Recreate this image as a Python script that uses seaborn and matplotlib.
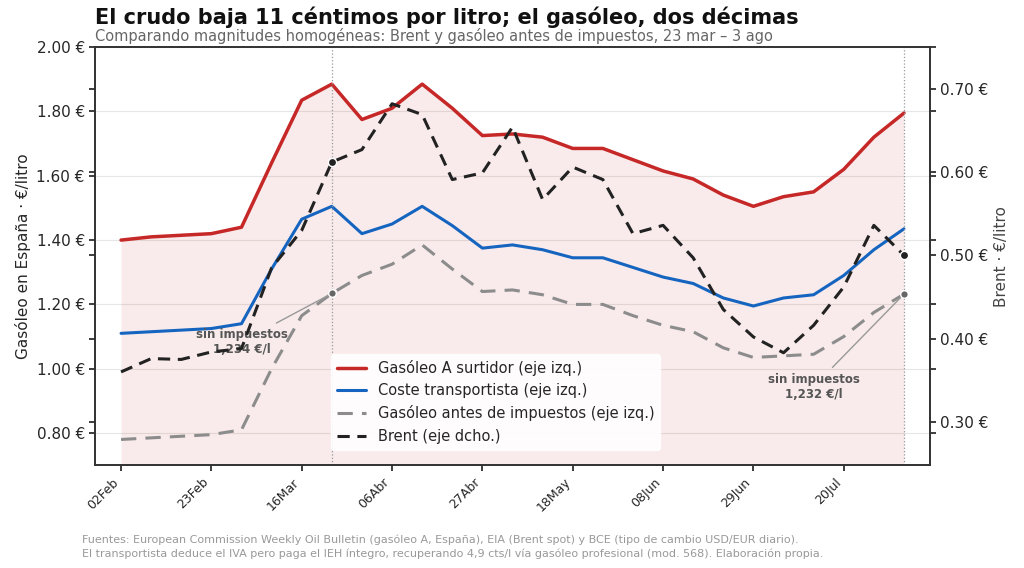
import pandas as pd
import matplotlib
matplotlib.use('Agg')
import matplotlib.pyplot as plt
import seaborn as sns

sns.set_theme(style="white")
plt.rcParams['font.family'] = ['DejaVu Sans']

# weekly data, 02 Feb - 03 Aug
fechas = pd.date_range("2026-02-02", periods=27, freq="7D")
surtidor = [1.40, 1.41, 1.415, 1.42, 1.44, 1.64, 1.835, 1.885, 1.775, 1.81, 1.885, 1.81, 1.725,
            1.73, 1.72, 1.685, 1.685, 1.65, 1.615, 1.59, 1.54, 1.505, 1.535, 1.55, 1.62, 1.72, 1.795]
transportista = [1.11, 1.115, 1.12, 1.125, 1.14, 1.31, 1.465, 1.505, 1.42, 1.45, 1.505, 1.445, 1.375,
                 1.385, 1.37, 1.345, 1.345, 1.315, 1.285, 1.265, 1.22, 1.195, 1.22, 1.23, 1.29, 1.37, 1.435]
sin_impuestos = [0.78, 0.785, 0.79, 0.795, 0.81, 1.00, 1.165, 1.234, 1.29, 1.325, 1.385, 1.31, 1.24,
                 1.245, 1.23, 1.20, 1.20, 1.165, 1.135, 1.115, 1.065, 1.035, 1.04, 1.045, 1.10, 1.175, 1.232]
brent = [0.36, 0.376, 0.375, 0.384, 0.388, 0.485, 0.53, 0.612, 0.627, 0.682, 0.669, 0.591, 0.599,
         0.654, 0.567, 0.606, 0.591, 0.526, 0.536, 0.497, 0.435, 0.402, 0.383, 0.416, 0.462, 0.536, 0.50]
tick_labels = ["02Feb", "23Feb", "16Mar", "06Abr", "27Abr", "18May", "08Jun", "29Jun", "20Jul"]

df = pd.DataFrame({"fecha": fechas, "surtidor": surtidor, "transportista": transportista,
                   "sin": sin_impuestos, "brent": brent})

fig, ax = plt.subplots(figsize=(10.24, 5.68), dpi=100)
fig.subplots_adjust(left=0.093, right=0.908, bottom=0.181, top=0.917)
ax2 = ax.twinx()

ax.fill_between(df["fecha"], 0.70, df["surtidor"], color="#c62828", alpha=0.09, lw=0)
sns.lineplot(data=df, x="fecha", y="surtidor", ax=ax, color="#c62828", lw=2.5, label="Gasóleo A surtidor (eje izq.)", legend=False)
sns.lineplot(data=df, x="fecha", y="transportista", ax=ax, color="#1565c0", lw=2.2, label="Coste transportista (eje izq.)", legend=False)
sns.lineplot(data=df, x="fecha", y="sin", ax=ax, color="#8c8c8c", lw=2.2, ls=(0, (5, 3)), label="Gasóleo antes de impuestos (eje izq.)", legend=False)
sns.lineplot(data=df, x="fecha", y="brent", ax=ax2, color="#222222", lw=2.2, ls=(0, (4, 2.5)), label="Brent (eje dcho.)", legend=False)

for i in (7, 26):
    ax.axvline(df["fecha"][i], color="#999999", ls=":", lw=0.9)
    ax.scatter(df["fecha"][i], df["sin"][i], color="#666666", s=30, zorder=5, edgecolor="white")
    ax2.scatter(df["fecha"][i], df["brent"][i], color="#222222", s=35, zorder=5, edgecolor="white")

ax.annotate("sin impuestos\n1,234 €/l", xy=(df["fecha"][7], df["sin"][7]),
            xytext=(df["fecha"][4], 1.05), ha="center", fontsize=8.5, fontweight="bold", color="#555555",
            arrowprops=dict(arrowstyle="-", color="#999999", lw=1))
ax.annotate("sin impuestos\n1,232 €/l", xy=(df["fecha"][26], df["sin"][26]),
            xytext=(df["fecha"][23], 0.91), ha="center", fontsize=8.5, fontweight="bold", color="#555555",
            arrowprops=dict(arrowstyle="-", color="#999999", lw=1))

ax.set_ylim(0.70, 2.00)
ax2.set_ylim(0.248, 0.75)
ax.set_yticks([0.8, 1.0, 1.2, 1.4, 1.6, 1.8, 2.0])
ax.set_yticklabels([f"{v:.2f} €" for v in ax.get_yticks()], fontsize=11)
ax2.set_yticks([0.3, 0.4, 0.5, 0.6, 0.7])
ax2.set_yticklabels([f"{v:.2f} €" for v in ax2.get_yticks()], fontsize=11)
ax.set_xticks(df["fecha"][::3])
ax.set_xticklabels(tick_labels, rotation=45, ha="right", fontsize=9)
ax.set_xlim(df["fecha"][0] - pd.Timedelta(days=6), df["fecha"][26] + pd.Timedelta(days=6))
ax.set_xlabel("")
ax.set_ylabel("Gasóleo en España · €/litro", fontsize=11)
ax2.set_ylabel("Brent · €/litro", fontsize=11, color="#444444")
ax.grid(axis="y", color="#e6e6e6", lw=0.8)
for a in (ax, ax2):
    a.tick_params(length=4, direction="out", left=True, bottom=True, right=True)
    for s in a.spines.values():
        s.set_color("#333333")

h1, l1 = ax.get_legend_handles_labels()
h2, l2 = ax2.get_legend_handles_labels()
ax.legend(h1 + h2, l1 + l2, loc="lower center", bbox_to_anchor=(0.48, 0.02), fontsize=10.5,
          frameon=True, facecolor="white", edgecolor="white", framealpha=0.9)

fig.text(0.093, 0.958, "El crudo baja 11 céntimos por litro; el gasóleo, dos décimas",
         fontsize=15, fontweight="bold", color="#111111")
fig.text(0.093, 0.928, "Comparando magnitudes homogéneas: Brent y gasóleo antes de impuestos, 23 mar – 3 ago",
         fontsize=10.5, color="#666666")
fig.text(0.08, 0.02, "Fuentes: European Commission Weekly Oil Bulletin (gasóleo A, España), EIA (Brent spot) y BCE (tipo de cambio USD/EUR diario).\n"
         "El transportista deduce el IVA pero paga el IEH íntegro, recuperando 4,9 cts/l vía gasóleo profesional (mod. 568). Elaboración propia.",
         fontsize=8, color="#999999", linespacing=1.4)

fig.savefig("out.png", dpi=100)
